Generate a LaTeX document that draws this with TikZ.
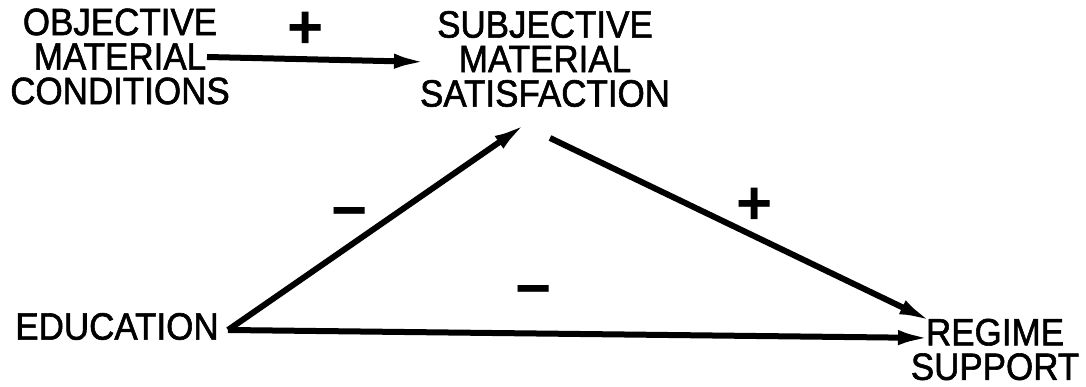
\documentclass[tikz,border=0pt]{standalone}
\usepackage{fontspec}
\setmainfont{Liberation Sans}
\newfontfamily\lettering[FakeBold=1.6]{Liberation Sans}
\usetikzlibrary{arrows.meta}
\begin{document}
\begin{tikzpicture}[x=1pt,y=1pt,
  lbl/.style={inner sep=0pt,align=center,font=\lettering\fontsize{38}{34.5}\selectfont,xscale=0.92},
  sign/.style={inner sep=0pt,font=\fontsize{62}{62}\bfseries\selectfont},
  arr/.style={line width=6pt,-{Latex[length=34pt,width=15pt]}}]
\useasboundingbox (0,0) rectangle (1086,387);
\node[lbl] (omc) at (120,330.5) {OBJECTIVE\\MATERIAL\\CONDITIONS};
\node[lbl] (sms) at (545,328) {SUBJECTIVE\\MATERIAL\\SATISFACTION};
\node[lbl] (edu) at (117,60.5) {EDUCATION};
\node[lbl] (reg) at (995,37.5) {REGIME\\SUPPORT};
\coordinate (a1) at (207,330);
\coordinate (b1) at (428,325);
\coordinate (e0) at (228,57);
\coordinate (b2) at (527,264);
\coordinate (s0) at (550,249);
\coordinate (r1) at (933,65);
\coordinate (r2) at (932,49);
\draw[arr] (a1) -- (b1);
\draw[arr] (e0) -- (b2);
\draw[arr] (s0) -- (r1);
\draw[arr] (e0) -- (r2);
\node[sign] (p1) at (306,357) {+};
\node[sign] (m1) at (350,167) {−};
\node[sign] (p2) at (755,181) {+};
\node[sign] (m2) at (534,89) {−};
\end{tikzpicture}
\end{document}
